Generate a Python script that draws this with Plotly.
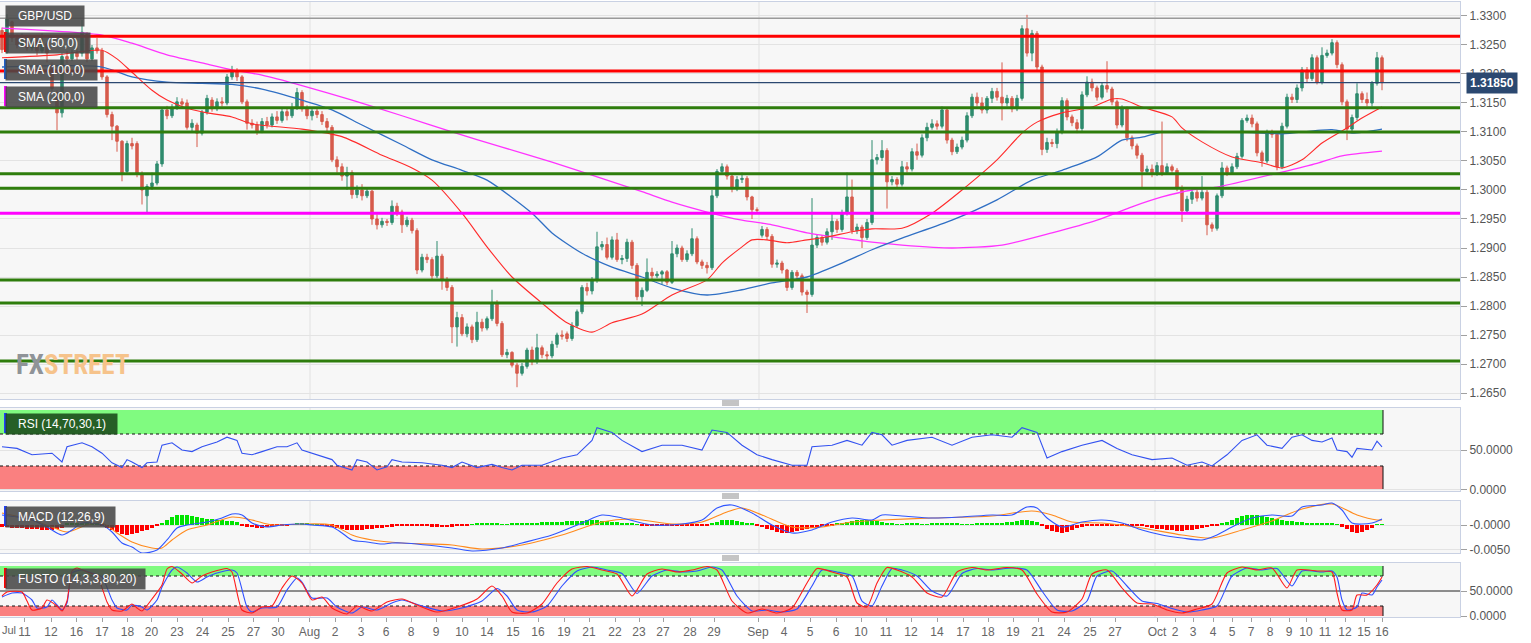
import plotly.graph_objects as go

# ---------------- price data (4h candles, price = 1 + v/10000) ----------------
O = [3275,3238,3290,3262,3250,3262,3245,3258,3240,3252,
     3215,3168,3133,3230,3226,3236,3236,3268,3226,3245,
     3240,3195,3130,3110,3084,3032,3080,3080,3028,2990,
     3006,3012,3045,3138,3128,3142,3152,3150,3108,3112,
     3098,3134,3155,3140,3152,3150,3195,3205,3195,3152,
     3115,3112,3102,3118,3112,3126,3120,3135,3128,3142,
     3168,3140,3128,3136,3130,3118,3108,3052,3040,3024,
     3030,2992,3000,2990,2998,2950,2940,2946,2944,2972,
     2962,2940,2948,2930,2862,2884,2880,2852,2886,2846,
     2832,2764,2780,2752,2764,2742,2772,2762,2778,2806,
     2770,2716,2720,2698,2684,2696,2724,2704,2728,2716,
     2714,2734,2750,2752,2744,2766,2790,2832,2826,2845,
     2902,2906,2884,2914,2880,2882,2910,2870,2816,2827,
     2858,2852,2855,2859,2841,2890,2900,2880,2890,2916,
     2876,2870,2866,2990,3032,3040,3024,3002,3018,3020,
     2988,2966,2922,2932,2920,2872,2874,2862,2832,2858,
     2852,2824,2820,2905,2918,2910,2928,2946,2932,2960,
     2988,2930,2936,2918,2944,3052,3056,3068,3014,3018,
     3010,3040,3036,3066,3060,3090,3108,3114,3110,3138,
     3086,3066,3074,3086,3128,3160,3150,3138,3158,3170,
     3160,3150,3158,3140,3158,3278,3236,3270,3212,3070,
     3082,3080,3100,3154,3126,3116,3106,3164,3186,3176,
     3160,3180,3174,3152,3112,3140,3090,3076,3060,3032,
     3036,3030,3042,3030,3040,3034,3004,2964,2984,2996,
     2986,2996,2940,2934,2990,3038,3030,3040,3058,3120,
     3124,3114,3064,3050,3098,3096,3040,3110,3160,3156,
     3176,3207,3192,3228,3186,3232,3236,3254,3216,3152,
     3105,3125,3166,3156,3150,3184,3228]
C = [3242,3295,3262,3250,3262,3245,3258,3240,3252,3236,
     3175,3133,3230,3226,3236,3230,3272,3226,3245,3240,
     3195,3130,3110,3084,3030,3080,3076,3028,3000,3006,
     3012,3045,3138,3128,3142,3152,3148,3108,3115,3098,
     3134,3158,3140,3152,3150,3195,3205,3195,3152,3115,
     3112,3102,3118,3112,3126,3120,3135,3128,3142,3168,
     3140,3128,3136,3130,3118,3108,3052,3040,3024,3030,
     2992,3000,2990,2998,2950,2940,2946,2944,2972,2962,
     2940,2948,2930,2862,2884,2880,2852,2886,2846,2832,
     2764,2780,2752,2764,2742,2772,2762,2778,2806,2770,
     2716,2720,2698,2684,2696,2724,2704,2728,2716,2714,
     2734,2750,2748,2744,2766,2790,2832,2826,2845,2902,
     2906,2884,2914,2880,2882,2910,2870,2816,2827,2858,
     2852,2855,2859,2841,2890,2900,2880,2890,2916,2876,
     2870,2866,2990,3032,3040,3024,3002,3018,3020,2988,
     2966,2965,2932,2920,2872,2874,2862,2832,2858,2852,
     2824,2820,2905,2918,2910,2928,2946,2932,2960,2988,
     2930,2936,2918,2944,3052,3056,3068,3014,3018,3010,
     3040,3036,3066,3060,3090,3108,3114,3110,3138,3086,
     3066,3074,3086,3128,3160,3150,3138,3158,3170,3160,
     3150,3158,3140,3158,3278,3236,3270,3212,3070,3082,
     3080,3100,3154,3126,3116,3106,3164,3186,3176,3160,
     3180,3174,3152,3112,3140,3090,3076,3060,3032,3036,
     3030,3042,3030,3040,3034,3004,2964,2984,2996,2986,
     2996,2940,2934,2990,3038,3030,3040,3058,3120,3124,
     3114,3064,3050,3098,3096,3040,3110,3160,3156,3176,
     3207,3192,3228,3186,3232,3236,3254,3216,3152,3105,
     3125,3166,3156,3150,3184,3228,3185]
H = [3280,3303,3292,3268,3270,3266,3265,3262,3270,3256,
     3220,3172,3236,3240,3242,3245,3293,3272,3250,3262,
     3245,3198,3135,3112,3086,3085,3090,3084,3032,3010,
     3030,3050,3142,3145,3148,3160,3158,3156,3122,3116,
     3138,3164,3160,3158,3160,3200,3214,3210,3198,3156,
     3122,3118,3124,3126,3132,3136,3142,3140,3150,3176,
     3172,3146,3142,3140,3136,3124,3112,3058,3046,3040,
     3034,3008,3010,3004,3000,2958,2952,2950,2982,2978,
     2966,2954,2952,2934,2890,2890,2884,2912,2890,2850,
     2836,2790,2786,2770,2768,2790,2778,2782,2828,2810,
     2774,2726,2722,2702,2702,2728,2730,2752,2732,2722,
     2740,2754,2758,2756,2772,2794,2836,2840,2850,2928,
     2912,2918,2920,2926,2888,2916,2914,2874,2832,2882,
     2866,2860,2862,2862,2912,2906,2904,2896,2934,2920,
     2880,2876,3000,3036,3046,3044,3028,3024,3030,3024,
     2990,2970,2938,2936,2924,2880,2878,2864,2862,2862,
     2856,2828,2986,2924,2922,2934,2960,2950,2966,3030,
     3018,2942,2940,2950,3086,3062,3086,3072,3024,3022,
     3050,3048,3072,3080,3096,3116,3122,3120,3144,3142,
     3090,3080,3092,3134,3166,3168,3160,3162,3176,3176,
     3220,3164,3162,3164,3284,3302,3276,3274,3216,3090,
     3088,3106,3160,3158,3130,3122,3170,3196,3192,3180,
     3186,3222,3178,3156,3146,3144,3094,3080,3064,3042,
     3044,3048,3118,3046,3044,3038,3008,2990,3002,3002,
     3024,3000,2944,2994,3048,3042,3046,3064,3124,3130,
     3130,3118,3068,3104,3104,3100,3116,3166,3166,3182,
     3212,3212,3234,3232,3246,3242,3260,3258,3220,3156,
     3130,3184,3170,3168,3188,3238,3232]
L = [3236,3235,3255,3244,3246,3240,3240,3232,3236,3220,
     3170,3103,3125,3218,3222,3224,3230,3220,3222,3235,
     3190,3125,3086,3066,3015,3028,3070,3022,2975,2960,
     3000,3008,3040,3122,3124,3138,3140,3104,3100,3074,
     3094,3130,3135,3136,3144,3146,3190,3188,3148,3104,
     3106,3095,3098,3106,3108,3114,3116,3120,3124,3138,
     3135,3122,3120,3124,3112,3100,3048,3030,3016,3000,
     2985,2986,2982,2986,2940,2932,2935,2938,2940,2955,
     2926,2936,2925,2855,2858,2874,2845,2848,2828,2826,
     2736,2730,2748,2746,2736,2738,2756,2758,2774,2765,
     2712,2710,2694,2660,2680,2692,2698,2700,2710,2706,
     2710,2728,2742,2738,2740,2762,2786,2818,2820,2840,
     2896,2880,2880,2876,2872,2876,2864,2810,2800,2824,
     2846,2848,2838,2836,2838,2884,2876,2876,2886,2872,
     2864,2856,2862,2986,3026,3018,2996,2998,3012,2982,
     2950,2960,2918,2914,2866,2866,2856,2826,2828,2846,
     2818,2788,2816,2900,2904,2906,2914,2926,2928,2956,
     2924,2924,2900,2914,2940,3044,3050,2968,3008,3004,
     3006,3030,3032,3052,3056,3084,3104,3104,3106,3080,
     3060,3062,3070,3082,3124,3144,3132,3132,3150,3154,
     3120,3144,3134,3136,3154,3230,3222,3206,3060,3064,
     3074,3072,3096,3120,3110,3098,3102,3160,3170,3154,
     3156,3168,3146,3106,3108,3084,3070,3054,3004,3026,
     3022,3024,3024,3026,3030,2998,2945,2960,2976,2980,
     2982,2922,2928,2930,2986,3024,3026,3036,3054,3116,
     3108,3058,3040,3046,3090,3034,3036,3106,3150,3150,
     3170,3186,3188,3182,3182,3228,3232,3210,3146,3086,
     3100,3120,3150,3144,3144,3180,3172]

# ---------------- moving averages (bar index, value) ----------------
SMA50_X = [0,11,20,23,26,30,33,37,41,46,50,60,68,76,82,86,92,97,102,108,113,118,122,128,134,141,144,148,150,153,
           157,161,165,170,174,180,186,192,199,204,207,212,218,222,224,228,234,236,240,246,252,256,260,264,269,272,276]
SMA50_V = [3228,3233,3241,3226,3203,3172,3155,3141,3133,3126,3114,3105,3092,3060,3038,3017,2960,2902,2850,2805,2771,2755,2771,2786,2819,2845,2874,2902,2914,2914,
           2909,2914,2919,2928,2933,2934,2960,3000,3052,3098,3117,3133,3143,3157,3157,3143,3126,3107,3083,3057,3047,3038,3052,3081,3107,3124,3143]
SMA100_X = [0,20,26,33,40,46,52,60,66,72,80,86,92,97,106,110,116,122,128,134,141,148,154,161,168,174,180,190,199,206,212,219,224,228,232,240,250,256,266,270,276]
SMA100_V = [3212,3212,3195,3186,3184,3182,3174,3155,3138,3112,3078,3052,3034,3017,2960,2926,2891,2867,2850,2831,2819,2828,2840,2850,2874,2897,2917,2948,2983,3017,3034,3057,3086,3091,3100,3101,3099,3097,3104,3098,3105]
SMA200_X = [0,20,26,33,40,46,52,60,70,80,90,100,110,121,128,134,141,148,154,161,168,174,180,190,200,210,219,226,232,238,243,256,263,268,276]
SMA200_V = [3279,3267,3253,3233,3219,3207,3198,3180,3155,3128,3100,3074,3048,3017,2997,2979,2962,2948,2940,2926,2917,2910,2905,2900,2905,2926,2948,2971,2988,3000,3005,3031,3046,3059,3067]

LEVELS_RED = [1.3265, 1.3205]
LEVELS_GREEN = [1.3142, 1.3100, 1.3028, 1.3003, 1.2845, 1.2805, 1.2705]
LEVEL_MAGENTA = 1.2960
LEVEL_GRAY = 1.3296
LAST_PRICE = 1.31850

# ---------------- RSI ----------------
RSI_X = [0,3,6,10,12,13,16,18,20,22,24,25,26,28,29,31,32,34,36,38,40,43,45,47,48,50,52,55,57,59,60,62,66,67,70,71,73,75,77,78,
         80,84,88,90,92,95,98,100,102,104,108,112,115,118,119,122,124,128,132,136,140,142,145,148,151,154,158,161,162,166,
         169,172,174,176,178,181,186,190,194,198,202,204,207,209,212,216,220,223,226,230,234,237,240,242,245,248,251,253,256,258,
         260,262,264,266,267,269,270,271,274,275,276]
RSI_V = [54,52,44,46,35,54,59,54,46,34,28,38,35,28,34,35,56,59,50,48,54,60,66,62,46,44,48,54,54,59,50,46,38,31,25,38,35,25,29,38,
         35,34,31,28,35,28,32,28,25,31,31,40,44,62,78,72,62,48,56,56,50,75,72,56,44,38,31,31,54,56,
         62,56,72,69,56,62,66,56,66,69,66,78,72,40,48,56,62,52,44,38,40,31,35,30,44,62,69,56,52,66,
         69,62,60,65,50,48,41,52,50,61,54]

# ---------------- MACD (units of 0.0001) ----------------
MACD_X = [0,3,6,9,12,14,16,20,22,24,26,28,31,33,35,37,41,44,46,48,50,53,56,60,62,66,68,70,73,76,78,80,90,94,100,104,110,116,120,124,
          130,136,140,143,146,150,154,158,162,166,170,174,176,180,186,192,198,202,205,207,209,212,216,220,224,228,232,236,240,243,
          246,250,254,258,260,264,266,268,270,274,276]
MACD_V = [20,16,10,-4,-20,-10,4,0,-14,-36,-44,-56,-50,-30,-6,0,6,14,22,20,4,-4,0,2,0,-4,-16,-30,-34,-38,-36,-36,-46,-52,-46,-36,-20,4,20,14,
          0,2,10,34,40,24,0,-16,-10,6,14,10,20,18,14,16,20,20,36,34,14,-4,6,10,4,-10,-20,-26,-30,-20,
          -4,14,20,18,36,40,44,30,4,4,12]
SIG_X = [0,6,10,13,17,20,23,26,30,32,34,37,41,46,50,54,60,66,70,74,80,90,96,104,112,120,126,134,140,145,148,152,158,164,170,176,
         186,198,206,210,214,220,228,236,242,248,254,260,266,271,275,276]
SIG_V = [24,10,-4,-14,0,4,-16,-34,-46,-46,-30,-10,0,16,10,0,2,0,-20,-30,-36,-40,-48,-40,-20,6,12,2,6,26,34,20,-4,-4,6,10,
         14,18,28,20,6,4,-6,-20,-26,-10,8,32,42,20,10,10]
HIST_V = [-4,-5,-6,-6,-7,-8,-8,-9,-10,-10,-10,-9,-6,
          2,3,4,4,4,3,2,
          -2,-6,-10,-14,-18,-20,-18,-16,-13,-10,-6,-2,
          4,10,15,19,20,19,17,15,13,12,11,10,9,8,7,6,
          -2,-4,-5,-6,-6,-5,-4,-3,-2,-1,
          1,2,2,2,1,1,
          -1,-2,-4,-6,-8,-10,-11,-11,-10,-9,-8,-7,-6,-5,-4,-3,
          -3,-2,-2,-1,-2,-3,-4,-4,-5,-5,-4,-3,-2,-1,1,2,2,3,2,2,
          1,1,2,2,3,3,4,4,5,5,6,6,6,7,7,8,8,9,9,9,
          8,7,6,5,4,3,2,1,
          -1,-2,-2,-3,-3,-3,-2,-2,-2,-1,-1,-1,-1,-1,
          3,6,9,10,9,8,6,4,2,
          -2,-5,-8,-11,-14,-16,-16,-15,-13,-11,-9,-7,-5,-3,-2,-1,
          2,4,6,8,9,10,10,9,8,6,4,2,
          1,1,2,2,2,1,1,2,2,3,3,2,2,1,1,1,2,2,2,3,3,4,
          5,6,8,9,10,8,5,
          -3,-8,-12,-15,-16,-14,-10,-7,-4,
          -2,-2,-3,-3,-3,-2,-2,-2,-1,-1,
          -2,-3,-5,-7,-8,-9,-10,-11,-12,-12,-11,-10,-9,-7,-5,-3,-1,
          2,5,9,13,17,19,20,19,18,16,14,12,10,8,7,6,5,4,3,
          3,2,2,2,1,
          -4,-9,-14,-16,-15,-11,-6,
          1,1]

# ---------------- FUSTO ----------------
FB_X = [0,2,4,6,7,9,10,11,12,13,14,16,18,20,22,23,25,26,28,29,31,32,34,35,37,39,41,43,46,47,49,50,52,55,57,59,60,62,65,67,
        70,72,75,78,80,84,88,92,96,99,101,103,106,109,112,115,118,121,124,127,130,133,136,139,142,144,147,150,153,156,
        159,162,164,167,170,172,174,176,178,180,183,186,189,192,195,198,202,205,208,211,214,217,219,222,225,228,231,234,237,240,
        243,246,249,252,255,258,260,264,266,267,268,269,271,272,274,275,276]
FB_V = [38,46,46,32,16,18,32,22,12,26,86,92,86,78,32,16,12,22,18,12,32,58,92,98,86,68,78,86,92,86,18,8,16,18,52,76,68,36,36,18,
        6,18,12,26,32,20,10,16,30,55,40,12,8,20,60,90,98,92,85,45,80,92,88,90,98,92,40,10,12,8,
        14,60,92,88,80,30,20,60,95,92,80,50,40,85,95,92,96,92,50,12,10,30,80,90,60,30,25,15,8,12,
        20,80,96,92,95,60,90,88,90,78,32,12,18,46,42,58,72]
FR_X = [0,1,4,5,6,8,9,11,12,13,14,15,17,19,21,22,24,26,27,28,30,32,33,34,36,38,40,42,45,46,48,50,52,54,56,58,60,62,64,66,
        69,71,74,77,80,83,87,91,95,98,100,102,105,108,111,114,117,120,123,126,129,132,135,138,141,143,146,149,152,155,
        158,161,163,166,169,171,173,175,177,179,182,185,188,191,194,197,201,204,207,210,213,216,218,221,224,227,230,233,236,239,
        242,245,248,251,254,257,259,263,266,267,268,270,271,273,275,276]
FR_V = [40,48,48,30,12,16,32,20,10,30,90,96,88,80,28,12,10,24,16,10,34,62,94,99,84,66,80,88,95,88,12,6,18,20,56,80,66,32,38,16,
        4,20,10,28,34,22,8,18,34,60,40,8,6,24,66,94,99,92,84,40,84,94,88,92,99,92,30,6,14,6,
        16,66,95,88,78,26,18,66,97,92,78,46,38,88,97,92,97,92,44,8,8,34,84,92,56,26,24,12,6,14,
        24,86,98,92,96,56,92,90,88,46,12,12,42,42,62,78]

# ---------------- x tick labels ----------------
FIRST_LABEL = 'Jul'
TICK_X = [4.5,9.8,14.9,20,25.1,29.9,35,40.1,45.2,50.3,55.2,61.5,66.6,71.8,76.8,81.8,86.8,92,97,102.2,107.2,112.4,117.4,
          122.6,127.4,132.2,137.6,142.4,151.2,156.4,161.6,166.8,171.8,176.8,181.8,187,192.2,197.2,202.2,207.2,212.4,217.6,
          222.6,231,234.6,238.2,242.2,246,249.8,253.6,257.4,260.8,264.6,268.6,272.4,276]
TICK_T = ['11','12','16','17','18','20','23','24','25','27','30','Aug','2','3','6','8','9','10','14','15','16','19','21',
          '22','23','27','28','29','Sep','4','5','6','10','11','12','14','17','18','19','21','24','25',
          '27','Oct','2','3','4','5','7','8','9','10','11','12','15','16']
MONTH_X = [61.6, 151.4, 230.6]

# ---------------- build figure ----------------
def p(v):
    return 1 + v / 10000.0

UP, DN = '#2f8b6e', '#d65a4b'
AXC = '#c9d1e3'
FONT = 'Liberation Sans, Arial, sans-serif'
bars = list(range(len(C)))
XR = [-0.4, 291.6]
LAST_BAR = len(C) - 1 + 0.2

fig = go.Figure()
fig.add_trace(go.Candlestick(
    x=bars, open=[p(v) for v in O], high=[p(v) for v in H], low=[p(v) for v in L], close=[p(v) for v in C],
    increasing=dict(line=dict(color=UP, width=1), fillcolor=UP),
    decreasing=dict(line=dict(color=DN, width=1), fillcolor=DN),
    whiskerwidth=0, xaxis='x', yaxis='y', showlegend=False, hoverinfo='skip'))
for xs, vs, col, w in [(SMA200_X, SMA200_V, '#ff33ff', 1.3), (SMA100_X, SMA100_V, '#2f6fc4', 1.3),
                       (SMA50_X, SMA50_V, '#ff2a2a', 1.1)]:
    fig.add_trace(go.Scatter(x=xs, y=[p(v) for v in vs], mode='lines', line=dict(color=col, width=w, shape='spline', smoothing=0.7),
                             xaxis='x', yaxis='y', showlegend=False, hoverinfo='skip'))

fig.add_trace(go.Scatter(x=RSI_X, y=RSI_V, mode='lines', line=dict(color='#3352f0', width=1.1),
                         xaxis='x2', yaxis='y2', showlegend=False, hoverinfo='skip'))

fig.add_trace(go.Bar(x=list(range(len(HIST_V))), y=[v / 10000.0 for v in HIST_V], width=0.75,
                     marker=dict(color=['#00e400' if v > 0 else '#ff0000' for v in HIST_V], line=dict(width=0)),
                     xaxis='x3', yaxis='y3', showlegend=False, hoverinfo='skip'))
fig.add_trace(go.Scatter(x=SIG_X, y=[v / 10000.0 for v in SIG_V], mode='lines',
                         line=dict(color='#ff8a1c', width=1.1, shape='spline', smoothing=0.8),
                         xaxis='x3', yaxis='y3', showlegend=False, hoverinfo='skip'))
fig.add_trace(go.Scatter(x=MACD_X, y=[v / 10000.0 for v in MACD_V], mode='lines',
                         line=dict(color='#2f55ff', width=1.1, shape='spline', smoothing=0.8),
                         xaxis='x3', yaxis='y3', showlegend=False, hoverinfo='skip'))

fig.add_trace(go.Scatter(x=FB_X, y=FB_V, mode='lines', line=dict(color='#2f4fff', width=1.1, shape='spline', smoothing=0.6),
                         xaxis='x4', yaxis='y4', showlegend=False, hoverinfo='skip'))
fig.add_trace(go.Scatter(x=FR_X, y=FR_V, mode='lines', line=dict(color='#ff1a1a', width=1.1, shape='spline', smoothing=0.6),
                         xaxis='x4', yaxis='y4', showlegend=False, hoverinfo='skip'))

shapes = []
for ax, yr in [('x', 'y'), ('x2', 'y2'), ('x3', 'y3'), ('x4', 'y4')]:
    for mx in MONTH_X:
        shapes.append(dict(type='line', xref=ax, yref=yr + ' domain', x0=mx, x1=mx, y0=0, y1=1,
                           line=dict(color='#e1e1e1', width=1), layer='below'))
shapes.append(dict(type='line', xref='paper', yref='y', x0=0, x1=1, y0=LEVEL_GRAY, y1=LEVEL_GRAY, line=dict(color='#9a9a9a', width=1.5)))
for lv in LEVELS_RED:
    shapes.append(dict(type='line', xref='paper', yref='y', x0=0, x1=1, y0=lv, y1=lv, line=dict(color='#ff0000', width=3)))
shapes.append(dict(type='line', xref='paper', yref='y', x0=0, x1=1, y0=LAST_PRICE, y1=LAST_PRICE, line=dict(color='#2b4870', width=1.3)))
for lv in LEVELS_GREEN:
    shapes.append(dict(type='line', xref='paper', yref='y', x0=0, x1=1, y0=lv, y1=lv, line=dict(color='#2e7d0c', width=3)))
shapes.append(dict(type='line', xref='paper', yref='y', x0=0, x1=1, y0=LEVEL_MAGENTA, y1=LEVEL_MAGENTA, line=dict(color='#ff00ff', width=3)))

for ax, yr, hi, lo in [('x2', 'y2', 70, 30), ('x4', 'y4', 80, 20)]:
    shapes.append(dict(type='rect', xref=ax, yref=yr, x0=XR[0], x1=LAST_BAR, y0=hi, y1=100,
                       fillcolor='#80fb80', line=dict(width=0), layer='below'))
    shapes.append(dict(type='rect', xref=ax, yref=yr, x0=XR[0], x1=LAST_BAR, y0=0, y1=lo,
                       fillcolor='#fa8080', line=dict(width=0), layer='below'))
    for lv in (hi, lo):
        shapes.append(dict(type='line', xref=ax, yref=yr, x0=XR[0], x1=LAST_BAR, y0=lv, y1=lv,
                           line=dict(color='#111', width=1, dash='dot'), layer='below'))
    for a, b in ((hi, 100), (0, lo)):
        shapes.append(dict(type='line', xref=ax, yref=yr, x0=LAST_BAR, x1=LAST_BAR, y0=a, y1=b,
                           line=dict(color='#111', width=1), layer='below'))
shapes.append(dict(type='line', xref='paper', yref='y4', x0=0, x1=1, y0=50, y1=50,
                   line=dict(color='#222', width=1), layer='below'))

for yp in (403, 496, 558):
    for dy in (-2, 0, 2):
        yy = (617 - (yp + dy)) / 615.0
        shapes.append(dict(type='line', xref='paper', yref='paper', x0=722 / 1460, x1=739 / 1460, y0=yy, y1=yy,
                           line=dict(color='#8a8a8a', width=1)))

annotations = []
def label_box(text, xpx, ytop, wpx, barcol, bg='rgba(72,72,72,0.88)'):
    annotations.append(dict(xref='paper', yref='paper', x=xpx / 1460, y=(617 - ytop) / 615.0,
                            xanchor='left', yanchor='top', text=text, showarrow=False, align='left',
                            width=wpx - 4, height=16, bgcolor=bg, borderpad=2,
                            font=dict(color='white', size=12, family=FONT)))
    if barcol:
        shapes.append(dict(type='rect', xref='paper', yref='paper', x0=4 / 1460, x1=7 / 1460,
                           y0=(617 - ytop - 20) / 615.0, y1=(617 - ytop) / 615.0,
                           fillcolor=barcol, line=dict(width=0)))

label_box('   GBP/USD', 5, 5, 78, None)
label_box('   SMA (50,0)', 5, 32, 84, '#ff0000')
label_box('   SMA (100,0)', 5, 59, 91, '#1f5fc8')
label_box('   SMA (200,0)', 5, 86, 91, '#ff00ff')
label_box('   RSI (14,70,30,1)', 5, 413, 111, '#2040ff', bg='rgba(28,78,28,0.9)')
label_box('   MACD (12,26,9)', 5, 506, 109, '#2040ff')
label_box('   FUSTO (14,3,3,80,20)', 5, 568, 139, '#ff0000')

annotations.append(dict(xref='paper', yref='paper', x=14 / 1460, y=(617 - 365) / 615.0, xanchor='left', yanchor='middle',
                        showarrow=False,
                        text="<b><span style='color:#8f9398'>FX</span><span style='color:#f6c38b'>STREET</span></b>",
                        font=dict(size=27, family='Liberation Sans Narrow, Roboto Condensed, Arial Narrow, sans-serif')))
annotations.append(dict(xref='paper', yref='y', x=1.0, xshift=6, y=LAST_PRICE, xanchor='left', yanchor='middle',
                        showarrow=False, text='<b>1.31850</b>', bgcolor='#2b4870', borderpad=3,
                        font=dict(color='white', size=12, family=FONT)))
annotations.append(dict(xref='paper', yref='paper', x=0, y=-0.0075, xanchor='left', yanchor='top', showarrow=False,
                        text=FIRST_LABEL, font=dict(size=11, color='#666', family=FONT)))

def xax(anchor, **kw):
    d = dict(range=XR, anchor=anchor, showgrid=False, zeroline=False, showline=True, mirror=True,
             linecolor=AXC, linewidth=1, fixedrange=True, rangeslider=dict(visible=False))
    d.update(kw)
    return d

def yax(anchor, domain, rng, tv, tt, grid=True):
    return dict(anchor=anchor, domain=domain, range=rng, side='right', tickvals=tv, ticktext=tt,
                showgrid=grid, gridcolor='#e3e3e3', zeroline=False, showline=True, mirror=True, linecolor=AXC,
                ticks='outside', ticklen=6, tickcolor='#a0a0a0',
                tickfont=dict(size=12, color='#555', family=FONT), fixedrange=True)

main_ticks = [1.2650 + 0.005 * k for k in range(14)]
fig.update_layout(
    width=1531, height=643, margin=dict(l=0, r=71, t=2, b=26),
    paper_bgcolor='white', plot_bgcolor='#f7f7f7', showlegend=False, bargap=0,
    xaxis=xax('y', showticklabels=False),
    xaxis2=xax('y2', showticklabels=False, matches='x'),
    xaxis3=xax('y3', showticklabels=False, matches='x'),
    xaxis4=xax('y4', matches='x', tickvals=TICK_X, ticktext=TICK_T, ticks='outside', ticklen=4,
               tickcolor='#a0a0a0', tickfont=dict(size=12, color='#666', family=FONT)),
    yaxis=yax('x', [0.3545, 1.0], [1.26397, 1.33241], main_ticks, ['%.4f' % v for v in main_ticks]),
    yaxis2=yax('x2', [0.2049, 0.3398], [-1.25, 102.5], [0, 50], ['0.0000', '50.0000']),
    yaxis3=yax('x3', [0.1041, 0.1886], [-0.0056, 0.0048], [-0.005, 0.0], ['-0.0050', '-0.0000']),
    yaxis4=yax('x4', [0.0, 0.0878], [-2, 106], [0, 50], ['0.0000', '50.0000'], grid=False),
    shapes=shapes, annotations=annotations,
)

fig.write_html('out.html', config={'displayModeBar': False},
               post_script="document.body.style.margin='0';document.body.style.overflow='hidden';")
